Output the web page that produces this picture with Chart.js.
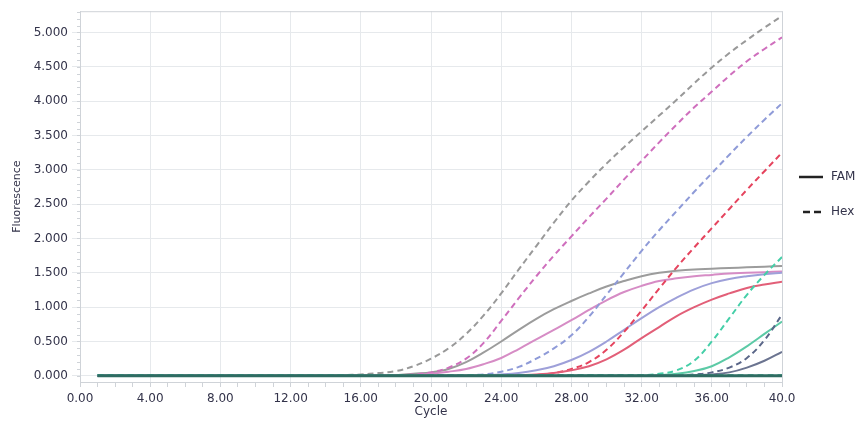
<!DOCTYPE html>
<html>
<head>
<meta charset="utf-8">
<script src="https://cdn.jsdelivr.net/npm/chart.js@4.4.0/dist/chart.umd.min.js"></script>
<style>
    html, body { margin: 0; padding: 0; background: #fff; }
    #wrap { width: 867px; height: 431px; }
</style>
</head>
<body>
<div id="wrap"><canvas id="qpcrChart" width="867" height="431"></canvas></div>
<script>
// cycles and fluorescence readings
const cycles = [1,2,3,4,5,6,7,8,9,10,11,12,13,14,15,16,17,18,19,20,21,22,23,24,25,26,27,28,29,30,31,32,33,34,35,36,37,38,39,40];

const xTicks = [0,1,2,3,4,5,6,7,8,9,10,11,12,13,14,15,16,17,18,19,20,21,22,23,24,25,26,27,28,29,30,31,32,33,34,35,36,37,38,39,40];
const yTicks = [0, 0.5, 1, 1.5, 2, 2.5, 3, 3.5, 4, 4.5, 5];

// FAM (solid)
const famBase  = [0,0,0,0,0,0,0,0,0,0,0,0,0,0,0,0,0,0,0,0,0,0,0,0,0,0,0,0,0,0,0,0,0,0,0,0,0,0,0,0];
const famGray  = [0,0,0,0,0,0,0,0,0,0,0,0,0,0,0,0,0,0.01,0.03,0.05,0.10,0.20,0.34,0.50,0.67,0.83,0.97,1.09,1.20,1.30,1.38,1.45,1.50,1.53,1.55,1.56,1.57,1.58,1.59,1.60];
const famPink  = [0,0,0,0,0,0,0,0,0,0,0,0,0,0,0,0,0,0,0.01,0.03,0.06,0.10,0.17,0.26,0.39,0.53,0.67,0.81,0.96,1.10,1.22,1.31,1.38,1.42,1.45,1.47,1.49,1.50,1.51,1.52];
const famBlue  = [0,0,0,0,0,0,0,0,0,0,0,0,0,0,0,0,0,0,0,0,0,0,0.01,0.02,0.04,0.08,0.14,0.23,0.35,0.50,0.67,0.84,1.00,1.14,1.26,1.35,1.41,1.45,1.48,1.50];
const famRed   = [0,0,0,0,0,0,0,0,0,0,0,0,0,0,0,0,0,0,0,0,0,0,0,0,0.01,0.02,0.04,0.08,0.14,0.24,0.38,0.55,0.71,0.87,1.00,1.11,1.20,1.28,1.33,1.37];
const famTeal  = [0,0,0,0,0,0,0,0,0,0,0,0,0,0,0,0,0,0,0,0,0,0,0,0,0,0,0,0,0,0,0,0,0.01,0.03,0.07,0.14,0.27,0.43,0.61,0.79];
const famSlate = [0,0,0,0,0,0,0,0,0,0,0,0,0,0,0,0,0,0,0,0,0,0,0,0,0,0,0,0,0,0,0,0,0,0,0.01,0.02,0.05,0.12,0.22,0.35];

// Hex (dashed)
const hexBase  = [0.01,0.01,0.01,0.01,0.01,0.01,0.01,0.01,0.01,0.01,0.01,0.01,0.01,0.01,0.01,0.01,0.01,0.01,0.01,0.01,0.01,0.01,0.01,0.01,0.01,0.01,0.01,0.01,0.01,0.01,0.01,0.01,0.01,0.01,0.01,0.01,0.01,0.01,0.01,0.01];
const hexGray  = [0,0,0,0,0,0,0,0,0,0,0,0,0,0,0.01,0.02,0.04,0.07,0.14,0.25,0.40,0.61,0.88,1.20,1.55,1.89,2.23,2.55,2.83,3.09,3.33,3.56,3.79,4.02,4.26,4.49,4.70,4.89,5.07,5.24];
const hexPink  = [0,0,0,0,0,0,0,0,0,0,0,0,0,0,0,0,0,0.01,0.02,0.05,0.12,0.25,0.48,0.80,1.13,1.45,1.75,2.03,2.31,2.58,2.86,3.13,3.40,3.66,3.91,4.14,4.37,4.58,4.76,4.93];
const hexBlue  = [0,0,0,0,0,0,0,0,0,0,0,0,0,0,0,0,0,0,0,0,0,0.01,0.02,0.06,0.13,0.25,0.40,0.59,0.86,1.18,1.50,1.82,2.12,2.40,2.68,2.95,3.22,3.48,3.73,3.97];
const hexRed   = [0,0,0,0,0,0,0,0,0,0,0,0,0,0,0,0,0,0,0,0,0,0,0,0,0.01,0.01,0.04,0.10,0.20,0.38,0.64,0.95,1.27,1.58,1.87,2.15,2.43,2.71,2.98,3.25];
const hexTeal  = [0.01,0.01,0.01,0.01,0.01,0.01,0.01,0.01,0.01,0.01,0.01,0.01,0.01,0.01,0.01,0.01,0.01,0.01,0.01,0.01,0.01,0.01,0.01,0.01,0.01,0.01,0.01,0.01,0.01,0.01,0.01,0.01,0.03,0.08,0.22,0.50,0.84,1.18,1.47,1.73];
const hexSlate = [0,0,0,0,0,0,0,0,0,0,0,0,0,0,0,0,0,0,0,0,0,0,0,0,0,0,0,0,0,0,0,0,0,0,0.02,0.05,0.12,0.26,0.52,0.89];

const legendLabels = ['FAM', 'Hex'];

const gridColor = '#e6e9ec';
const axisColor = '#cfd3d8';
const textColor = '#33334a';
const DASH = [6, 4];

function series(vals, color, dashed, width) {
    return {
        data: vals.map((v, i) => ({ x: cycles[i], y: v })),
        borderColor: color,
        borderWidth: width || 2,
        borderDash: dashed ? DASH : [],
        pointRadius: 0,
        fill: false,
        tension: 0.4
    };
}

const datasets = [
    series(famBase, '#2f6c62', false, 3),
    series(hexBase, '#2fb597', true),
    series(famSlate, '#6b7490', false),
    series(hexSlate, '#5b6789', true),
    series(famTeal, '#5ccaa6', false),
    series(hexTeal, '#45cfa8', true),
    series(famRed, '#e25f78', false),
    series(hexRed, '#e5445e', true),
    series(famBlue, '#9ea0d9', false),
    series(hexBlue, '#8f9bd8', true),
    series(famPink, '#d68cc5', false),
    series(hexPink, '#cf6fbd', true),
    series(famGray, '#9c9c9c', false),
    series(hexGray, '#999999', true)
];

// box round the plot, minor ticks on the y axis, and the FAM / Hex key
const frame = {
    id: 'frame',
    beforeDatasetsDraw(chart) {
        const { ctx, chartArea: a } = chart;
        ctx.save();
        ctx.strokeStyle = axisColor;
        ctx.lineWidth = 1;
        ctx.strokeRect(a.left + 0.5, a.top + 0.5, a.right - a.left, a.bottom - a.top);
        const y = chart.scales.y;
        ctx.beginPath();
        for (let k = 0; k <= 53; k++) {
            const py = Math.round(y.getPixelForValue(k / 10)) + 0.5;
            ctx.moveTo(a.left - 3, py);
            ctx.lineTo(a.left, py);
        }
        ctx.stroke();
        ctx.restore();
    },
    afterDraw(chart) {
        const { ctx, chartArea: a } = chart;
        ctx.save();
        ctx.font = '12px "DejaVu Sans", sans-serif';
        ctx.textBaseline = 'middle';
        ctx.fillStyle = textColor;
        ctx.strokeStyle = '#222';
        ctx.lineWidth = 2.5;
        const rows = [177, 212];
        legendLabels.forEach((lbl, i) => {
            ctx.beginPath();
            if (i === 0) {
                ctx.setLineDash([]);
                ctx.moveTo(a.right + 17, rows[i]);
                ctx.lineTo(a.right + 41, rows[i]);
            } else {
                ctx.setLineDash([7, 4]);
                ctx.moveTo(a.right + 21, rows[i]);
                ctx.lineTo(a.right + 39, rows[i]);
            }
            ctx.stroke();
            ctx.fillText(lbl, a.right + 49, rows[i]);
        });
        ctx.restore();
    }
};

new Chart(document.getElementById('qpcrChart').getContext('2d'), {
    type: 'line',
    data: { datasets: datasets },
    options: {
        responsive: false,
        animation: false,
        layout: { padding: { left: 0, top: 7, right: 85, bottom: 0 } },
        plugins: { legend: { display: false }, tooltip: { enabled: false } },
        scales: {
            x: {
                type: 'linear', min: 0, max: 40,
                afterBuildTicks: s => { s.ticks = xTicks.map(v => ({ value: v })); },
                afterFit: s => { s.height = 49; },
                ticks: {
                    autoSkip: false, maxRotation: 0, padding: 5, color: textColor,
                    font: { family: '"DejaVu Sans", sans-serif', size: 12 },
                    callback: v => v % 4 !== 0 ? '' : (v === 40 ? '40.0' : v.toFixed(2))
                },
                grid: {
                    color: c => (c.tick && c.tick.value % 4 === 0) ? gridColor : 'rgba(0,0,0,0)',
                    tickColor: axisColor, tickLength: 5
                },
                border: { color: axisColor },
                title: {
                    display: true, text: 'Cycle', color: textColor,
                    font: { family: '"DejaVu Sans", sans-serif', size: 12 },
                    padding: { top: 0, bottom: 12 }
                }
            },
            y: {
                min: -0.09, max: 5.31,
                afterBuildTicks: s => { s.ticks = yTicks.map(v => ({ value: v })); },
                afterFit: s => { s.width = 80; },
                ticks: {
                    padding: 4, color: textColor,
                    font: { family: '"DejaVu Sans", sans-serif', size: 12 },
                    callback: v => v.toFixed(3)
                },
                grid: { color: gridColor, tickColor: gridColor, tickLength: 8 },
                border: { color: axisColor },
                title: {
                    display: true, text: 'Fluorescence', color: textColor,
                    font: { family: '"DejaVu Sans", sans-serif', size: 11 },
                    padding: { top: 11, bottom: 0 }
                }
            }
        }
    },
    plugins: [frame]
});
</script>
</body>
</html>
